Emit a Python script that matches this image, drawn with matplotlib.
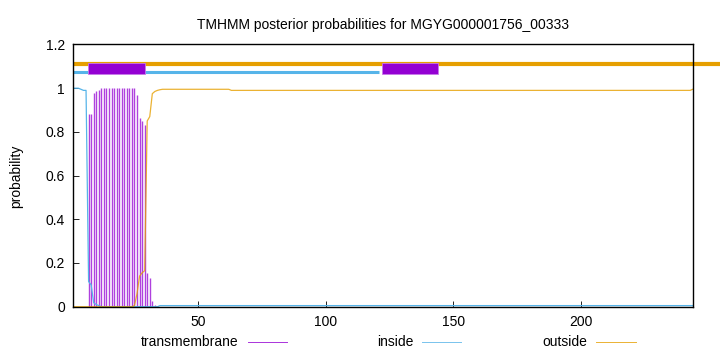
import matplotlib
matplotlib.use('Agg')
import matplotlib.pyplot as plt
from matplotlib.lines import Line2D
from matplotlib.patches import Rectangle

plt.rcParams['font.family'] = ['Liberation Sans', 'DejaVu Sans']
plt.rcParams['font.size'] = 10

seq_len = 244
positions = list(range(1, seq_len + 1))

# posterior probabilities, per residue
tm_prob = ([0.0] * 6
           + [0.88, 0.88, 0.98, 0.985, 0.99]
           + [1.0] * 14
           + [0.97, 0.864, 0.85, 0.83, 0.155, 0.13, 0.025, 0.01, 0.005]
           + [0.0] * 210)
inside_prob = ([1.0, 1.0, 1.0, 0.995, 0.99, 0.99, 0.115, 0.10, 0.018, 0.01, 0.005]
               + [0.0] * 23
               + [0.005] * 210)
outside_prob = ([0.0] * 24
                + [0.005, 0.06, 0.14, 0.155, 0.165, 0.85, 0.87, 0.975, 0.985, 0.99, 0.993]
                + [0.995] * 27
                + [0.99] * 181
                + [0.995])

# predicted topology bars at the top
outside_bar = (1, 260)
inside_bar = (1, 121)
tm_boxes = [(6.9, 29.1), (122.0, 144.2)]

purple = '#9400d3'
blue = '#56b4e9'
orange = '#e69f00'

fig = plt.figure(figsize=(7.2, 3.52), dpi=100)
ax = fig.add_axes([0.1018, 0.1287, 0.8603, 0.7449])

ax.vlines(positions, 0, tm_prob, color=purple, lw=1.0, alpha=0.75)
ax.plot(positions, inside_prob, color=blue, lw=0.9)
ax.plot(positions, outside_prob, color=orange, lw=0.9, alpha=0.8)

ax.plot(outside_bar, [1.112, 1.112], color=orange, lw=3.0, clip_on=False, solid_capstyle='butt')
ax.plot(inside_bar, [1.073, 1.073], color=blue, lw=2.2, solid_capstyle='butt')
for start, end in tm_boxes:
    ax.add_patch(Rectangle((start, 1.067), end - start, 0.05, facecolor=purple,
                           edgecolor='#c77ae8', lw=0.6, zorder=5))

ax.set_xlim(1, seq_len)
ax.set_ylim(0, 1.2)
ax.set_xticks([50, 100, 150, 200])
ax.set_yticks([0, 0.2, 0.4, 0.6, 0.8, 1.0, 1.2])
ax.set_yticklabels(['0', '0.2', '0.4', '0.6', '0.8', '1', '1.2'])
ax.tick_params(direction='in', length=4, width=0.6, pad=6)
for s in ax.spines.values():
    s.set_linewidth(1.0)

ax.set_title('TMHMM posterior probabilities for MGYG000001756_00333', fontsize=10, pad=11)
fig.text(0.022, 0.5, 'probability', rotation=90, va='center', ha='center', fontsize=10)

# legend row under the axis, gnuplot style
legend_y = 1 - 341.5 / 352
entries = [('transmembrane', purple, 238, 248, 287),
           ('inside', blue, 413, 422, 461),
           ('outside', orange, 587, 596, 636)]
for label, col, text_end, l0, l1 in entries:
    fig.text(text_end / 720, legend_y, label, ha='right', va='center', fontsize=10)
    fig.add_artist(Line2D([l0 / 720, l1 / 720], [legend_y, legend_y], color=col, lw=0.7, alpha=0.8))

fig.savefig('out.png', dpi=100)
